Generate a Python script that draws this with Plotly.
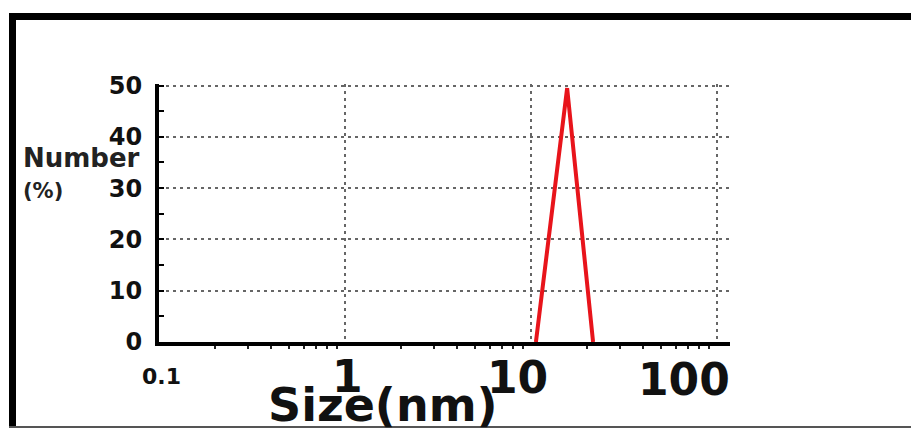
import plotly.graph_objects as go
import math

# ---- data ----
size_nm = [10.6, 15.6, 21.5]
number_pct = [0, 49.5, 0]

y_tick_vals = [0, 10, 20, 30, 40, 50]
y_tick_text = ["0", "10", "20", "30", "40", "50"]
x_tick_vals = [0.1, 1, 10, 100]
x_tick_text = ["0.1", "1", "10", "100"]
x_minor_vals = [0.2, 0.3, 0.4, 0.5, 0.6, 0.7, 0.8, 0.9,
                2, 3, 4, 5, 6, 7, 8, 9,
                20, 30, 40, 50, 60, 70, 80, 90]

# ---- layout geometry (pixels) ----
W, H = 911, 428
L, R, T, B = 159, 730, 84, 342

def px2x(px):
    return (px - L) / (R - L)

def px2y(py):
    return (B - py) / (B - T)

FONT = "DejaVu Sans"

fig = go.Figure()
fig.add_trace(go.Scatter(
    x=size_nm, y=number_pct, mode="lines",
    line=dict(color="#e8141b", width=4), showlegend=False,
))

# x tick labels (different sizes in the reference)
x_label_size = [22, 44, 44, 44]
x_label_shift = [2, 2, -14, -33]
x_label_y = [376, 376, 377, 379]
for v, t, s, sh, yy in zip(x_tick_vals, x_tick_text, x_label_size, x_label_shift, x_label_y):
    fig.add_annotation(x=math.log10(v), xref="x", y=px2y(yy), yref="paper",
                       text=t, showarrow=False, xanchor="center", yanchor="middle",
                       xshift=sh, font=dict(family=FONT, size=s, color="#111", weight="bold"))

# axis titles
fig.add_annotation(x=px2x(383), xref="paper", y=px2y(405), yref="paper",
                   text="Size(nm)", showarrow=False, xanchor="center", yanchor="middle",
                   font=dict(family=FONT, size=46, color="#111", weight="bold"))
fig.add_annotation(x=px2x(21), xref="paper", y=px2y(158), yref="paper",
                   text="Number", showarrow=False, xanchor="left", yanchor="middle",
                   font=dict(family=FONT, size=26, color="#222", weight="bold"))
fig.add_annotation(x=px2x(21), xref="paper", y=px2y(191), yref="paper",
                   text="(%)", showarrow=False, xanchor="left", yanchor="middle",
                   font=dict(family=FONT, size=21, color="#222", weight="bold"))

# frame
fig.add_shape(type="line", xref="paper", yref="paper",
              x0=px2x(12.5), x1=px2x(12.5), y0=px2y(13), y1=px2y(430),
              line=dict(color="#000", width=7))
fig.add_shape(type="line", xref="paper", yref="paper",
              x0=px2x(9), x1=px2x(915), y0=px2y(16.5), y1=px2y(16.5),
              line=dict(color="#000", width=7))
fig.add_shape(type="line", xref="paper", yref="paper",
              x0=px2x(9), x1=px2x(915), y0=px2y(427), y1=px2y(427),
              line=dict(color="#555", width=2))

fig.update_layout(
    width=W, height=H,
    margin=dict(l=L, r=W - R, t=T, b=H - B, pad=0),
    paper_bgcolor="white", plot_bgcolor="white",
    font=dict(family=FONT, color="#111"),
    xaxis=dict(
        type="log", range=[-1, math.log10(117)],
        tickvals=[1, 10, 100], showticklabels=False,
        showgrid=True, gridcolor="#666", gridwidth=2, griddash="3px,4px",
        showline=True, linecolor="#000", linewidth=4,
        ticks="", zeroline=False,
        minor=dict(tickvals=x_minor_vals, ticks="outside", ticklen=3,
                   tickwidth=2, tickcolor="#222", showgrid=False),
    ),
    yaxis=dict(
        range=[0, 50.3], tickvals=y_tick_vals, ticktext=y_tick_text,
        tickfont=dict(family=FONT, size=24, color="#111", weight="bold"),
        showgrid=True, gridcolor="#666", gridwidth=2, griddash="3px,4px",
        showline=True, linecolor="#000", linewidth=4,
        ticks="inside", ticklen=5, tickwidth=2, tickcolor="#000",
        ticklabelstandoff=8, zeroline=False,
        minor=dict(dtick=5, ticks="inside", ticklen=5, tickwidth=2,
                   tickcolor="#000", showgrid=False),
    ),
)

fig.write_html("out.html", config={"displayModeBar": False},
               post_script="document.body.style.margin='0';document.body.style.overflow='hidden';")
